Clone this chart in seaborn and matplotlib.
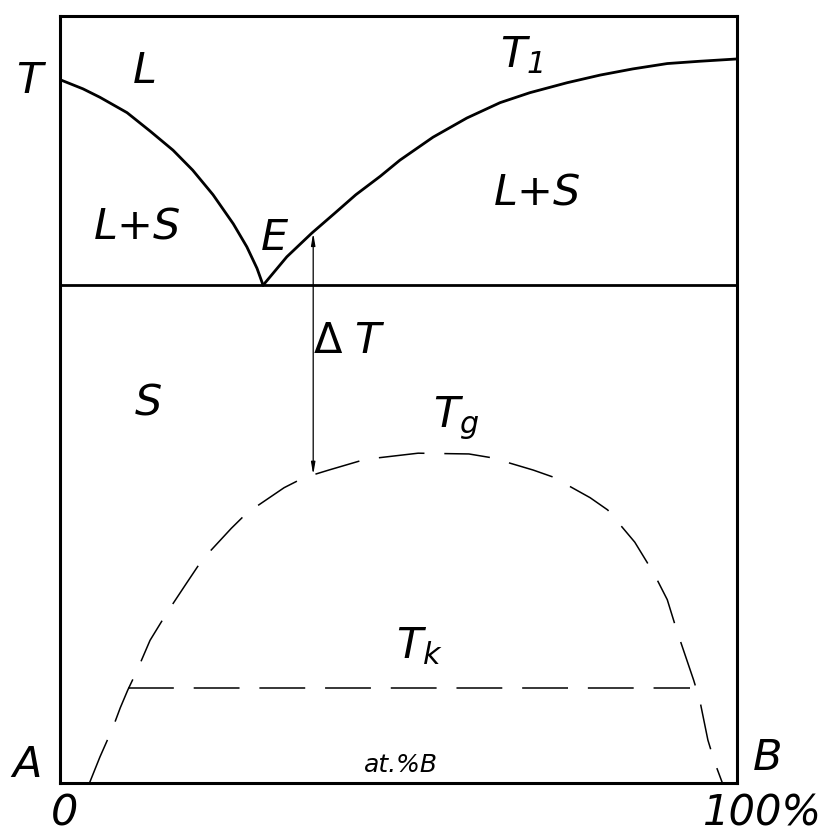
import numpy as np
import pandas as pd
import seaborn as sns
import matplotlib.pyplot as plt

# at.% B  vs  temperature (arbitrary units, 0..100)
liq_left_x = [0.0, 3.4, 5.9, 9.9, 13.3, 16.7, 19.6, 22.6, 25.6, 27.6, 29.1, 30.0]
liq_left_t = [91.7, 90.5, 89.4, 87.4, 85.0, 82.5, 79.9, 76.7, 72.9, 69.9, 67.1, 64.9]
liq_right_x = [30.0, 33.5, 37.2, 40.6, 43.7, 47.3, 50.2, 55.1, 60.1, 65.0, 69.4,
               74.9, 79.8, 84.6, 89.7, 94.5, 100.0]
liq_right_t = [64.9, 68.6, 71.7, 74.3, 76.7, 79.1, 81.2, 84.2, 86.7, 88.7, 90.0,
               91.3, 92.3, 93.1, 93.8, 94.1, 94.4]
eutectic_t = 64.9
tg_x = [4.4, 5.9, 7.8, 8.9, 10.0, 11.4, 13.3, 15.8, 18.5, 21.0, 25.3, 27.6, 33.1,
        36.0, 39.7, 45.1, 52.9, 60.4, 63.8, 69.9, 72.8, 78.3, 80.9, 84.9, 86.7,
        88.2, 89.7, 91.1, 92.6, 93.6, 94.5, 95.7, 96.7, 97.8]
tg_t = [0.1, 3.4, 7.2, 9.8, 12.1, 14.7, 18.6, 22.2, 25.8, 29.1, 33.2, 35.2, 38.5,
        39.8, 40.8, 42.2, 43.0, 42.9, 42.4, 40.8, 39.9, 37.2, 35.6, 31.4, 28.8,
        26.5, 23.9, 19.9, 16.0, 13.4, 10.8, 5.6, 2.7, 0.1]
tk_x = [10.0, 93.1]
tk_t = [12.4, 12.4]
dT_x = 37.4
dT_low, dT_high = 40.2, 71.7

sns.set_style("white")
plt.rcParams['font.family'] = ['DejaVu Sans']
plt.rcParams['text.color'] = 'black'
plt.rcParams['mathtext.fontset'] = 'custom'
plt.rcParams['mathtext.it'] = 'DejaVu Sans:italic'
plt.rcParams['mathtext.rm'] = 'DejaVu Sans:italic'

W, H = 831, 834
fig = plt.figure(figsize=(W / 100, H / 100), dpi=100)
ax = fig.add_axes([60 / W, 1 - 783 / H, 677 / W, 767 / H])

solid = dict(color='black', lw=2.0, estimator=None, sort=False, legend=False)
sns.lineplot(x=liq_left_x, y=liq_left_t, ax=ax, **solid)
sns.lineplot(x=liq_right_x, y=liq_right_t, ax=ax, **solid)
ax.axhline(eutectic_t, color='black', lw=2.0)

dash = (0, (30, 13))
sns.lineplot(x=tg_x, y=tg_t, ax=ax, color='black', lw=1.1, linestyle=dash,
             estimator=None, sort=False, legend=False)
sns.lineplot(x=tk_x, y=tk_t, ax=ax, color='black', lw=1.1, linestyle=dash,
             estimator=None, sort=False, legend=False)

ax.annotate('', xy=(dT_x, dT_high), xytext=(dT_x, dT_low),
            arrowprops=dict(arrowstyle='<|-|>,head_length=0.7,head_width=0.12',
                            color='black', lw=0.9, shrinkA=0, shrinkB=0))

ax.set_xlim(0, 100)
ax.set_ylim(0, 100)
ax.set_xticks([])
ax.set_yticks([])
for s in ax.spines.values():
    s.set_visible(True)
    s.set_color('black')
    s.set_linewidth(2.2)


def lab(txt, px, py, size=31, ha='center'):
    fig.text(px / W, 1 - py / H, txt, fontsize=size, style='italic',
             ha=ha, va='baseline')


lab('T', 29, 93)
lab('L', 145, 83)
lab('L+S', 137, 240)
lab('E', 274, 250)
lab(r'$T_{1}$', 500, 67, ha='left')
lab('L+S', 537, 205)
fig.text(328 / W, 1 - 353 / H, '\u0394', fontsize=30, ha='center', va='baseline')
lab('T', 367, 353)
lab('S', 148, 415)
lab(r'$T_g$', 433, 427, ha='left')
lab(r'$T_k$', 396, 658, ha='left')
lab('A', 27, 777)
lab('B', 768, 770)
lab('0', 65, 826)
lab('100%', 762, 826, 30)
lab('at.%B', 401, 772, 18)

fig.savefig('out.png', dpi=100)
